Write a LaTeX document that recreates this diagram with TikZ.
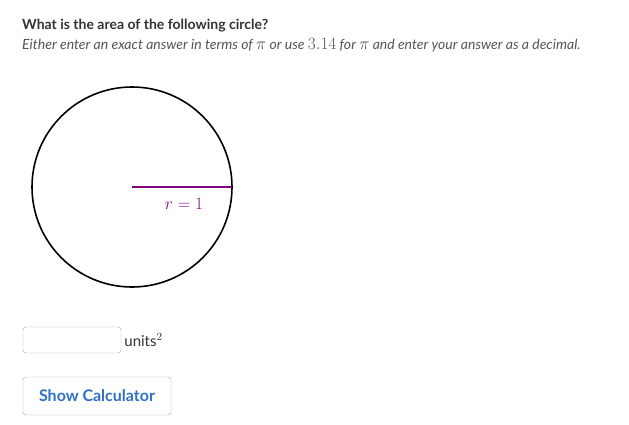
\documentclass[tikz,border=0pt]{standalone}
\usepackage{fontspec}
\setmainfont{Lato}
\DeclareMathSizes{14}{16.5}{11}{8}
\DeclareMathSizes{16}{19}{13}{10}
\definecolor{txtgray}{HTML}{333333}
\definecolor{subgray}{HTML}{555555}
\definecolor{radpurple}{HTML}{800080}
\definecolor{btnblue}{HTML}{2F6FC4}
\definecolor{boxgray}{HTML}{AAAAAA}
\begin{document}
\begin{tikzpicture}[%
    x=1pt,y=-1pt,
    txt/.style={
      anchor=base west,
      inner sep=0pt
    },
    field/.style={
      rectangle,
      draw=boxgray,
      rounded corners=3pt,
      minimum width=98pt,
      minimum height=26pt
    },
    button/.style={
      rectangle,
      draw=boxgray,
      rounded corners=3pt,
      minimum width=148pt,
      minimum height=38pt,
      font=\fontsize{16}{19}\selectfont\bfseries,
      text=btnblue
    }
  ]
    \useasboundingbox (0,0) rectangle (629,424);
    \node[txt,text=txtgray,font=\fontsize{14}{17}\selectfont\bfseries] (Q) at (22,29)
      {What is the area of the following circle?};
    \node[txt,text=subgray,font=\fontsize{14}{16}\selectfont\itshape] (H) at (22,49)
      {Either enter an exact answer in terms of $\pi$ or use $3.14$ for $\pi$ and enter your answer as a decimal.};
    % circle and radius
    \coordinate (O) at (132,187);
    \draw[line width=1.6pt] (O) circle (100);
    \coordinate (R) at (232,187);
    \draw[radpurple,line width=2pt] (O) -- (R);
    \node[text=radpurple,font=\fontsize{16}{19}\selectfont] (rl) at (184,204) {$r=1$};
    % answer field
    \node[field] (F) at (72,340) {};
    \node[anchor=west,inner sep=0pt,text=txtgray,font=\fontsize{15}{18}\selectfont] (U)
      at ([xshift=3pt]F.east) {units$^2$};
    \node[button] (B) at (97,396) {Show Calculator};
  \end{tikzpicture}
\end{document}
